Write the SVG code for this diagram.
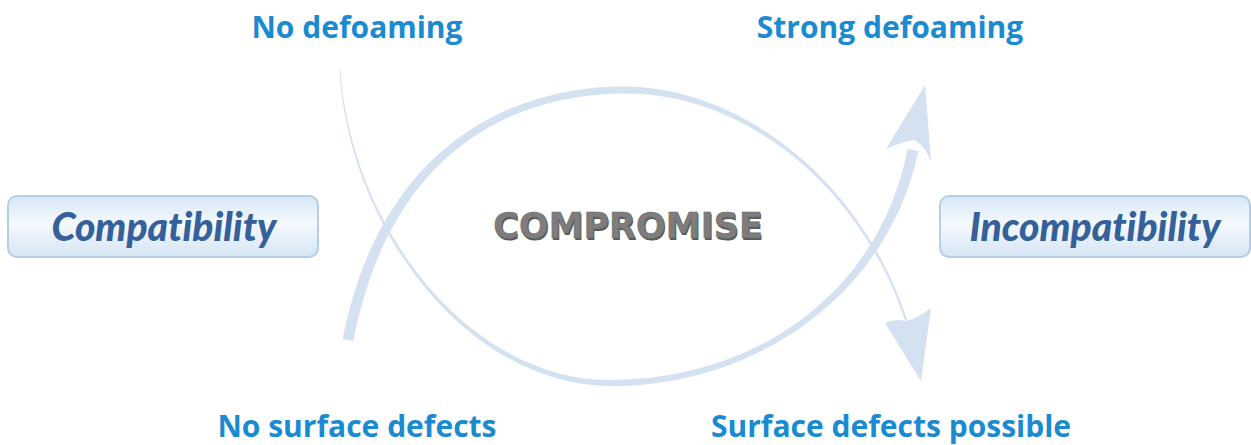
<svg xmlns="http://www.w3.org/2000/svg" width="1251" height="445" viewBox="0 0 1251 445">
<defs>
<linearGradient id="boxg" x1="0" y1="0" x2="0" y2="1">
<stop offset="0" stop-color="#d6e7f6"/>
<stop offset="0.45" stop-color="#f4f9fe"/>
<stop offset="1" stop-color="#d5e5f4"/>
</linearGradient>
<style>
.lbl{font-family:"Open Sans","Liberation Sans",sans-serif;font-weight:700;font-size:30px;fill:#1a8bd0;text-anchor:middle}
.box{fill:url(#boxg);stroke:#b6cde6;stroke-width:2}
.boxt{font-family:Lato,"Open Sans",sans-serif;font-weight:900;font-style:italic;font-size:39px;fill:#35609a;text-anchor:middle;font-variant-ligatures:none;font-feature-settings:"liga" 0}
.arc{fill:#d4e1f1}
.comp{font-family:"DejaVu Sans",sans-serif;font-weight:700;font-size:35px;text-anchor:middle}
</style>
</defs>
<rect width="1251" height="445" fill="#ffffff"/>
<g id="connectors">
<path class="arc" d="M342.6,338.9 C380.5,148 508.8,86.2 625,86.5 C740,87 861.4,179.5 907,319.7 L905,320.3 C858.6,180.5 740,93 625,93.5 C511.2,93.8 389.5,152 353.4,341.1 Z"/>
<path class="arc" d="M921,381 L885,323 Q896,318 906,321 Q918,318 931,308 Z"/>
<path class="arc" d="M339.5,70 C348.8,230.9 469.5,385.5 610,386 C760,386.5 889.4,290.9 918.4,151.1 L907.6,148.9 C880.6,289.1 760,379.5 610,380 C470.5,380.5 351.2,229.1 340.5,70 Z"/>
<path class="arc" d="M925,85 L931,161 Q923,143 914,140 Q901,142 886,149 Z"/>
</g>
<g id="label-no-defoaming"><text class="lbl" x="357" y="38">No defoaming</text></g>
<g id="label-strong-defoaming"><text class="lbl" x="890" y="38">Strong defoaming</text></g>
<g id="label-no-surface-defects"><text class="lbl" x="357" y="437">No surface defects</text></g>
<g id="label-surface-defects-possible"><text class="lbl" x="891" y="437">Surface defects possible</text></g>
<g id="node-compatibility">
<rect class="box" x="8" y="196" width="310" height="61" rx="9"/>
<text class="boxt" x="164" y="241">Compatibility</text>
</g>
<g id="node-incompatibility">
<rect class="box" x="940" y="196" width="310" height="61" rx="9"/>
<text class="boxt" x="1095" y="241">Incompatibility</text>
</g>
<g id="node-compromise">
<text class="comp" x="629" y="240" fill="#5a5a5a">COMPROMISE</text>
<text class="comp" x="628" y="238" fill="#7d7d7d" stroke="#6a6a6a" stroke-width="0.6">COMPROMISE</text>
</g>
</svg>
